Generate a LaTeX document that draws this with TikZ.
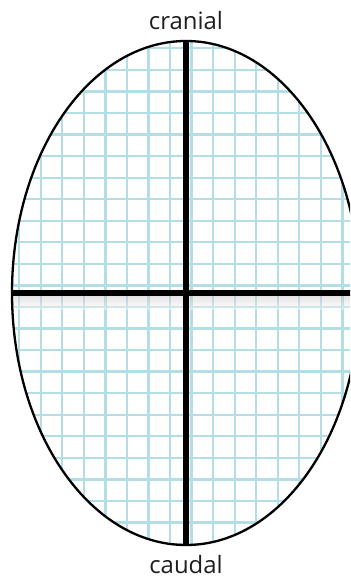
\documentclass[tikz,border=0pt]{standalone}
\usepackage{fontspec}
\setmainfont{Open Sans}
\usetikzlibrary{shapes.geometric,positioning}
\definecolor{plateBlue}{RGB}{180,222,229}
\definecolor{labelInk}{RGB}{30,30,30}
\tikzset{
  axlabel/.style={font=\fontsize{24}{26}\selectfont, text=labelInk,
    inner sep=0pt},
  gridline/.style={draw=plateBlue, line width=2.3bp},
  outline/.style={ellipse, draw=black, line width=2.3bp, inner sep=0pt,
    minimum width=348bp, minimum height=504bp},
  axisline/.style={draw=black, line width=5.6bp}
}
\begin{document}
\begin{tikzpicture}[x=1bp, y=-1bp]
\path[use as bounding box] (0,0) rectangle (350,578);
\clip (0,0) rectangle (350,578);

% grid inside the oval
\begin{scope}
  \clip (186,293) ellipse [x radius=174, y radius=252];
  \foreach \k in {0,...,16}
    \draw[gridline] ({-2.4+21.55*\k},35) -- ++(0,520);
  \foreach \k in {0,...,24}
    \draw[gridline] (5,{26.8+21.55*\k}) -- ++(345,0);
  \shade[top color=black!25, bottom color=white, opacity=.4]
    (10,296) rectangle (350,309);
\end{scope}

\node[outline] (field) at (186,293) {};
\coordinate (rim) at (352,293);

\draw[axisline] (field.north) -- (field.south);
\draw[axisline] (field.west) -- (rim);

\node[axlabel, anchor=base] (cranial) at (186,30) {cranial};
\node[axlabel, anchor=base] (caudal) at (186,573) {caudal};
\end{tikzpicture}
\end{document}
